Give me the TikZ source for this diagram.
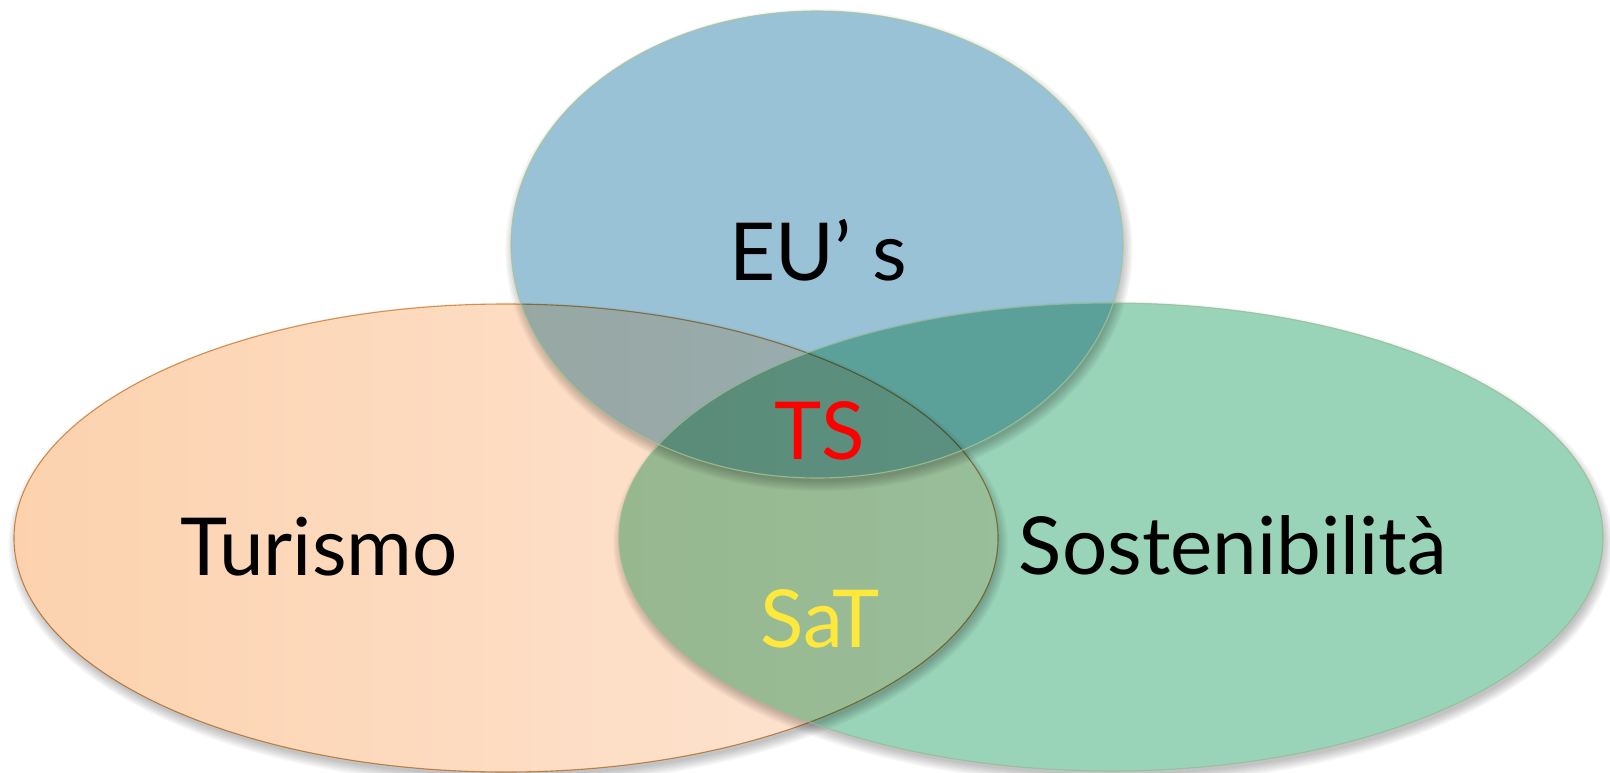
\documentclass[tikz,border=0pt]{standalone}
\usepackage{fontspec}
\setmainfont{Lato}
\definecolor{orL}{RGB}{252,210,174}
\definecolor{orR}{RGB}{254,230,214}
\definecolor{orB}{RGB}{218,160,92}
\definecolor{grF}{RGB}{153,211,184}
\definecolor{grB}{RGB}{150,190,150}
\definecolor{blF}{RGB}{154,194,214}
\definecolor{blB}{RGB}{165,198,150}
\definecolor{tsred}{RGB}{255,0,0}
\definecolor{satyel}{RGB}{255,232,60}
\tikzset{
  lbl/.style={font=\fontsize{80}{96}\selectfont, anchor=base, inner sep=0pt},
  shd/.style={black, opacity=0.035},
  rim/.style={line width=1.1pt},
}
\begin{document}
\begin{tikzpicture}[x=1pt,y=-1pt]
\useasboundingbox (0,0) rectangle (1610,773);
\fill[white] (0,0) rectangle (1610,773);
\begin{scope}[blend mode=multiply]
  % orange shadow
  \begin{scope}[even odd rule]
    \clip (-20,-20) rectangle (1630,800) (506,538) ellipse (492 and 234);
    \foreach \k in {0,...,6} \fill[shd] (508,544) ellipse ({490+\k*1.6} and {232+\k*1.6});
  \end{scope}
  \shade[left color=orL, right color=orR] (506,538) ellipse (492 and 234);
  \draw[rim, orB] (506,538) ellipse (492 and 234);
  % green shadow
  \begin{scope}[even odd rule]
    \clip (-20,-20) rectangle (1630,800) (1111,537) ellipse (492 and 234);
    \foreach \k in {0,...,6} \fill[shd] (1113,543) ellipse ({490+\k*1.6} and {232+\k*1.6});
  \end{scope}
  \fill[grF] (1111,537) ellipse (492 and 234);
  % blue shadow
  \begin{scope}[even odd rule]
    \clip (-20,-20) rectangle (1630,800) (817,244.5) ellipse (306 and 233.5);
    \foreach \k in {0,...,6} \fill[shd] (819,250) ellipse ({304+\k*1.6} and {231.5+\k*1.6});
  \end{scope}
  \fill[blF] (817,244.5) ellipse (306 and 233.5);
\end{scope}
\draw[rim, grB, opacity=0.8] (1111,537) ellipse (492 and 234);
\draw[rim, blB, opacity=0.8] (817,244.5) ellipse (306 and 233.5);
\node[lbl] (eus) at (818,280) {EU’ s};
\node[lbl] (tur) at (319,575) {Turismo};
\node[lbl] (sos) at (1233,574) {Sostenibilità};
\node[lbl, text=tsred] (ts) at (820,459) {TS};
\node[lbl, text=satyel] (sat) at (820,647) {SaT};
\end{tikzpicture}
\end{document}
